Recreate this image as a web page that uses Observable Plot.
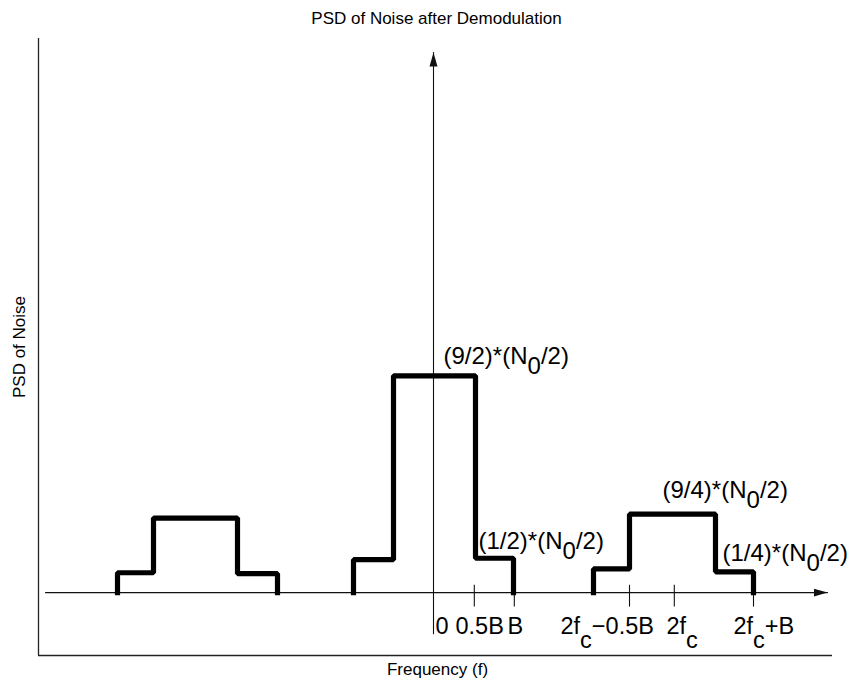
<!DOCTYPE html>
<html>
<head>
<meta charset="utf-8">
<script src="https://cdn.jsdelivr.net/npm/d3@7"></script>
<script src="https://cdn.jsdelivr.net/npm/@observablehq/plot@0.6"></script>
<style>
  html, body { margin: 0; padding: 0; background: #fff; }
</style>
</head>
<body>
<div id="chart"></div>
<script>
// Frequency in units of 0.5B (B = 2, 2fc = 6); PSD in display units (not to scale)
const shapeNames = ["image", "baseband", "2fc"];
const outerLeft  = [-7.9, -2.0, 4.0];
const innerLeft  = [-7.0, -1.0, 4.9];
const innerRight = [-4.9, 1.05, 7.05];
const outerRight = [-3.9, 2.0, 8.0];
const lowLeft    = [0.41, 0.68, 0.49];
const highLevel  = [1.54, 4.48, 1.62];
const lowRight   = [0.39, 0.71, 0.43];

const tickX = [1.02, 2.02, 4.9, 6.02, 8.0];
const tickLabels = ["0", "0.5B", "B", "2f_c\u22120.5B", "2f_c", "2f_c+B"];
const tickLabelX = [0.05, 0.55, 1.85, 3.175, 5.825, 7.5];

const annText = ["(9/2)*(N_0/2)", "(1/2)*(N_0/2)", "(9/4)*(N_0/2)", "(1/4)*(N_0/2)"];
const annX = [0.25, 1.125, 5.725, 7.225];
const annY = [4.73, 0.91, 1.96, 0.66];

const title = "PSD of Noise after Demodulation";
const xLabel = "Frequency (f)";
const yLabel = "PSD of Noise";

// build step outlines
const steps = [];
shapeNames.forEach((name, i) => {
  const pts = [
    [outerLeft[i], 0], [outerLeft[i], lowLeft[i]],
    [innerLeft[i], lowLeft[i]], [innerLeft[i], highLevel[i]],
    [innerRight[i], highLevel[i]], [innerRight[i], lowRight[i]],
    [outerRight[i], lowRight[i]], [outerRight[i], 0]
  ];
  pts.forEach(([x, y]) => steps.push({name, x, y}));
});

const xDomain = [-10, 10];
const yDomain = [-1.3, 11.45];

const axisH = [{x: -9.7, y: 0}, {x: 9.85, y: 0}];
const axisV = [{x: 0, y: -0.85}, {x: 0, y: 11.16}];

function filledArrow(color) {
  const m = d3.create("svg:marker")
    .attr("viewBox", "-14 -5 14 10")
    .attr("markerWidth", 14)
    .attr("markerHeight", 10)
    .attr("markerUnits", "userSpaceOnUse")
    .attr("orient", "auto")
    .attr("fill", "#111")
    .attr("stroke", "none");
  m.append("path").attr("d", "M0,0L-14,-4L-14,4Z");
  return m.node();
}

const font = "'Liberation Sans', Arial, Helvetica, sans-serif";

const chart = Plot.plot({
  width: 852,
  height: 683,
  marginLeft: 33,
  marginRight: 19,
  marginTop: 38,
  marginBottom: 28,
  x: {domain: xDomain, axis: null},
  y: {domain: yDomain, axis: null},
  style: {background: "#fff", fontFamily: font, color: "#000"},
  marks: [
    // outer box lines (left + bottom)
    Plot.ruleX([xDomain[0] + 0.125], {y1: yDomain[0], y2: yDomain[1], stroke: "#222", strokeWidth: 1.3}),
    Plot.ruleY([yDomain[0]], {x1: xDomain[0] + 0.125, x2: 9.975, stroke: "#222", strokeWidth: 1.3}),
    // inner axes with arrows
    Plot.line(axisH, {x: "x", y: "y", stroke: "#111", strokeWidth: 1.1, markerEnd: filledArrow}),
    Plot.line(axisV, {x: "x", y: "y", stroke: "#111", strokeWidth: 1.1, markerEnd: filledArrow}),
    // ticks
    Plot.ruleX(tickX, {y1: 0.15, y2: -0.3, stroke: "#111", strokeWidth: 1.1}),
    // step shapes
    Plot.line(steps, {x: "x", y: "y", z: "name", stroke: "#000", strokeWidth: 5.2,
      strokeLinejoin: "miter", strokeLinecap: "square", curve: "linear"}),
    // tick labels
    Plot.text(tickLabels, {x: (d, i) => tickLabelX[i], y: -0.85, text: d => d,
      textAnchor: "start", lineAnchor: "bottom", fontSize: 23.5, fill: "#000"}),
    // annotations
    Plot.text(annText, {x: (d, i) => annX[i], y: (d, i) => annY[i], text: d => d,
      textAnchor: "start", lineAnchor: "bottom", fontSize: 24, fill: "#000"}),
    // title and axis labels
    Plot.text([title], {frameAnchor: "top", textAnchor: "middle", lineAnchor: "middle", dx: 3, dy: -20, fontSize: 17, fill: "#000"}),
    Plot.text([xLabel], {frameAnchor: "bottom", textAnchor: "middle", lineAnchor: "middle", dx: 4, dy: 14, fontSize: 17, fill: "#000"}),
    Plot.text([yLabel], {frameAnchor: "left", textAnchor: "middle", lineAnchor: "middle", rotate: -90, dx: -14, dy: 0, fontSize: 17, fill: "#000"})
  ]
});

// turn "_x" into a lowered subscript tspan
const NS = "http://www.w3.org/2000/svg";
chart.querySelectorAll("text").forEach(t => {
  const s = t.textContent;
  if (!s.includes("_")) return;
  const parts = s.split(/_(.)/);
  while (t.firstChild) t.removeChild(t.firstChild);
  parts.forEach((p, i) => {
    if (p === "") return;
    const ts = document.createElementNS(NS, "tspan");
    ts.textContent = p;
    if (i % 2 === 1) {
      ts.setAttribute("dy", p === "c" ? 14 : 10);
    } else if (i > 0) {
      ts.setAttribute("dy", -(parts[i - 1] === "c" ? 14 : 10));
    }
    t.appendChild(ts);
  });
});

document.getElementById("chart").appendChild(chart);
</script>
</body>
</html>
